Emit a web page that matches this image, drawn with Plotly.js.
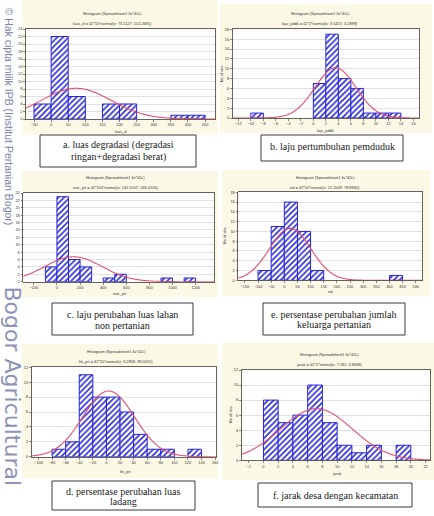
<!DOCTYPE html>
<html>
<head>
<meta charset="utf-8">
<script src="https://cdn.plot.ly/plotly-3.0.1.min.js"></script>
<style>
  html, body { margin: 0; padding: 0; background: #ffffff; }
  #chart { width: 434px; height: 516px; }
</style>
</head>
<body>
<div id="chart"></div>
<script>
// Histogram counts per variable (lower bin edge + number of observations)
const luasBins = [-50, 0, 50, 150, 200, 350, 400];
const luasCounts = [4, 22, 6, 4, 4, 1, 1];

const pddkBins = [-10, 0, 2, 4, 6, 8, 10, 12];
const pddkCounts = [1, 7, 17, 8, 6, 1, 1, 1];

const nonPrtBins = [-100, 0, 100, 200, 400, 500, 900, 1100];
const nonPrtCounts = [4, 23, 6, 4, 1, 2, 1, 1];

const edBins = [-100, -50, 0, 50, 100, 400];
const edCounts = [2, 11, 16, 10, 2, 1];

const kkPrtBins = [-80, -60, -40, -20, 0, 20, 40, 60, 80, 120];
const kkPrtCounts = [1, 2, 11, 8, 8, 6, 3, 1, 1, 1];

const jarakBins = [0, 2, 4, 6, 8, 10, 12, 14, 18];
const jarakCounts = [8, 5, 6, 10, 5, 2, 1, 2, 2];

// Fitted normal curves: nObs*binWidth*normal(x; mean; sd)
const nObs = 42;
const varNames = ['luas_d', 'laju_pddk', 'non_prt', 'ed', 'kk_prt', 'jarak'];
const binWidths = [50, 2, 100, 50, 20, 2];
const fitMeans = [73.1127, 3.5421, 141.5507, 22.2049, 3.2958, 7.181];
const fitSds = [102.2681, 3.2899, 248.4126, 78.8965, 38.0015, 4.8868];

const chartTitle = 'Histogram (Spreadsheet1 6v*42c)';
const yTitle = 'No of obs';
const captions = [
  ['a. luas degradasi (degradasi', 'ringan+degradasi berat)'],
  ['b. laju pertumbuhan pemduduk'],
  ['c. laju perubahan luas lahan', 'non pertanian'],
  ['e. persentase perubahan jumlah', 'keluarga pertanian'],
  ['d. persentase perubahan luas', 'ladang'],
  ['f. jarak desa dengan kecamatan']
];
const watermark1 = '\u00A9 Hak cipta milik IPB (Institut Pertanian Bogor)';
const watermark2 = 'Bogor Agricultural';

const binSets = [luasBins, pddkBins, nonPrtBins, edBins, kkPrtBins, jarakBins];
const countSets = [luasCounts, pddkCounts, nonPrtCounts, edCounts, kkPrtCounts, jarakCounts];

// Page geometry (pixels) for each panel
const W = 434, H = 516;
const PX = v => v / W;
const PY = v => 1 - v / H;

const frames = [
  {plot:[26,29,215,119],        bg:[22,0,218,135],   xr:[-73.4,479],  ymax:24, dx:50,  title:[113,13.3,23.3],  xt:[120.5,131.7], yt:null,        box:[40,135,196,167],  capY:[145,157.3]},
  {plot:[232.7,29.3,419,118],   bg:[220,4,432,133],  xr:[-12.9,16.9], ymax:18, dx:2,   title:[320,13.3,23.3],  xt:[325.8,130],   yt:[221.7,73.5], box:[261,135,403,161], capY:[146.5]},
  {plot:[23.3,193,214.3,281.7], bg:[22,171,218,297], xr:[-291,1361],  ymax:24, dx:200, title:[115,177.7,187.7], xt:[120,293.3],  yt:null,        box:[52,303,193,335],  capY:[314,325.3]},
  {plot:[238.3,192.3,422.3,280.3], bg:[222,170,430,296], xr:[-175,525], ymax:18, dx:50, title:[325,177.7,187.7], xt:[330,291.7], yt:[225,236],   box:[263,303,405,335], capY:[314,324.5]},
  {plot:[31.7,367.3,216.5,456.7], bg:[22,344,218,478], xr:[-110,162],  ymax:12, dx:20,  title:[116,351.7,361.7], xt:[126,471],   yt:null,        box:[52,481,195,510],  capY:[491,501.7]},
  {plot:[241.7,370,430,460.3],  bg:[222,343,434,480], xr:[-2.95,22.6], ymax:12, dx:2,   title:[329,354.3,364.3], xt:[336,473],   yt:[230,415],    box:[258,483,412,507], capY:[495]}
];

const CREAM = '#fcf8e6';
const BAR_BLUE = '#2626d6';
const CURVE_RED = '#e2506c';
const AXIS_COL = '#3c3c3c';
const TINY = {family: 'Liberation Sans, Arial, sans-serif', size: 3.9, color: '#333333'};

const traces = [];
const shapes = [];
const annotations = [];
const layout = {
  width: W, height: H,
  margin: {l: 0, r: 0, t: 0, b: 0},
  paper_bgcolor: '#ffffff',
  plot_bgcolor: 'rgba(0,0,0,0)',
  showlegend: false,
  bargap: 0
};

function normalPdf(x, m, s) {
  const z = (x - m) / s;
  return Math.exp(-0.5 * z * z) / (s * Math.sqrt(2 * Math.PI));
}

frames.forEach((f, i) => {
  const s = i === 0 ? '' : String(i + 1);
  const xa = 'x' + s, ya = 'y' + s;
  const [l, t, r, b] = f.plot;

  // panel background and white plotting area
  shapes.push({type: 'rect', xref: 'paper', yref: 'paper', layer: 'below',
    x0: PX(f.bg[0]), x1: PX(f.bg[2]), y0: PY(f.bg[3]), y1: PY(f.bg[1]),
    fillcolor: CREAM, line: {width: 0}});
  shapes.push({type: 'rect', xref: 'paper', yref: 'paper', layer: 'below',
    x0: PX(l), x1: PX(r), y0: PY(b), y1: PY(t),
    fillcolor: '#ffffff', line: {width: 0}});

  layout['xaxis' + s] = {
    domain: [PX(l), PX(r)], anchor: ya, range: f.xr,
    tickmode: 'linear', tick0: 0, dtick: f.dx,
    ticks: 'outside', ticklen: 2, tickwidth: 0.6, tickcolor: AXIS_COL,
    tickfont: TINY, showgrid: false, zeroline: false,
    showline: true, mirror: true, linecolor: AXIS_COL, linewidth: 0.8,
    fixedrange: true
  };
  layout['yaxis' + s] = {
    domain: [PY(b), PY(t)], anchor: xa, range: [0, f.ymax],
    tickmode: 'linear', tick0: 0, dtick: 2,
    ticks: 'outside', ticklen: 2, tickwidth: 0.6, tickcolor: AXIS_COL,
    tickfont: TINY, showgrid: true, gridcolor: '#cfcfcf', gridwidth: 0.6,
    zeroline: false, showline: true, mirror: true, linecolor: AXIS_COL, linewidth: 0.8,
    fixedrange: true
  };

  // histogram bars
  traces.push({
    type: 'bar', xaxis: xa, yaxis: ya,
    x: binSets[i], y: countSets[i],
    width: binWidths[i], offset: 0,
    marker: {
      color: '#ffffff',
      line: {color: BAR_BLUE, width: 1},
      pattern: {shape: '/', fillmode: 'replace', fgcolor: BAR_BLUE, bgcolor: '#ffffff', size: 4, solidity: 0.38}
    },
    hoverinfo: 'skip'
  });

  // fitted normal curve across the axis range
  const xs = [], ys = [];
  const steps = 200;
  for (let k = 0; k <= steps; k++) {
    const x = f.xr[0] + (f.xr[1] - f.xr[0]) * k / steps;
    xs.push(x);
    ys.push(nObs * binWidths[i] * normalPdf(x, fitMeans[i], fitSds[i]));
  }
  traces.push({
    type: 'scatter', mode: 'lines', xaxis: xa, yaxis: ya,
    x: xs, y: ys, line: {color: CURVE_RED, width: 1.1, shape: 'spline'},
    hoverinfo: 'skip'
  });

  // titles
  const sub = varNames[i] + ' = ' + nObs + '*' + binWidths[i] + '*normal(x; ' + fitMeans[i] + '; ' + fitSds[i] + ')';
  annotations.push({xref: 'paper', yref: 'paper', x: PX(f.title[0]), y: PY(f.title[1]),
    text: chartTitle, showarrow: false, font: TINY, xanchor: 'center', yanchor: 'middle'});
  annotations.push({xref: 'paper', yref: 'paper', x: PX(f.title[0]), y: PY(f.title[2]),
    text: sub, showarrow: false, font: TINY, xanchor: 'center', yanchor: 'middle'});
  annotations.push({xref: 'paper', yref: 'paper', x: PX(f.xt[0]), y: PY(f.xt[1]),
    text: varNames[i], showarrow: false, font: TINY, xanchor: 'center', yanchor: 'middle'});
  if (f.yt) {
    annotations.push({xref: 'paper', yref: 'paper', x: PX(f.yt[0]), y: PY(f.yt[1]),
      text: yTitle, showarrow: false, font: TINY, textangle: -90, xanchor: 'center', yanchor: 'middle'});
  }

  // caption box below each histogram
  shapes.push({type: 'rect', xref: 'paper', yref: 'paper', layer: 'above',
    x0: PX(f.box[0]), x1: PX(f.box[2]), y0: PY(f.box[3]), y1: PY(f.box[1]),
    fillcolor: '#ffffff', line: {color: '#3a3a3a', width: 1}});
  const cx = (f.box[0] + f.box[2]) / 2;
  captions[i].forEach((line, j) => {
    annotations.push({xref: 'paper', yref: 'paper', x: PX(cx), y: PY(f.capY[j]),
      text: line, showarrow: false, xanchor: 'center', yanchor: 'middle',
      font: {family: 'Liberation Serif, Times New Roman, serif', size: 10, color: '#1a1a1a'}});
  });
});

// vertical watermark along the left margin
annotations.push({xref: 'paper', yref: 'paper', x: PX(8.5), y: PY(5),
  text: watermark1, showarrow: false, textangle: 90, xanchor: 'center', yanchor: 'top',
  font: {family: 'Liberation Sans, Arial, sans-serif', size: 10.5, color: '#7c84a8'}});
annotations.push({xref: 'paper', yref: 'paper', x: PX(12.5), y: PY(284),
  text: watermark2, showarrow: false, textangle: 90, xanchor: 'center', yanchor: 'top',
  font: {family: 'DejaVu Sans, sans-serif', size: 22, color: '#8c93b4'}});

layout.shapes = shapes;
layout.annotations = annotations;

Plotly.newPlot('chart', traces, layout, {staticPlot: true, displayModeBar: false});
</script>
</body>
</html>
